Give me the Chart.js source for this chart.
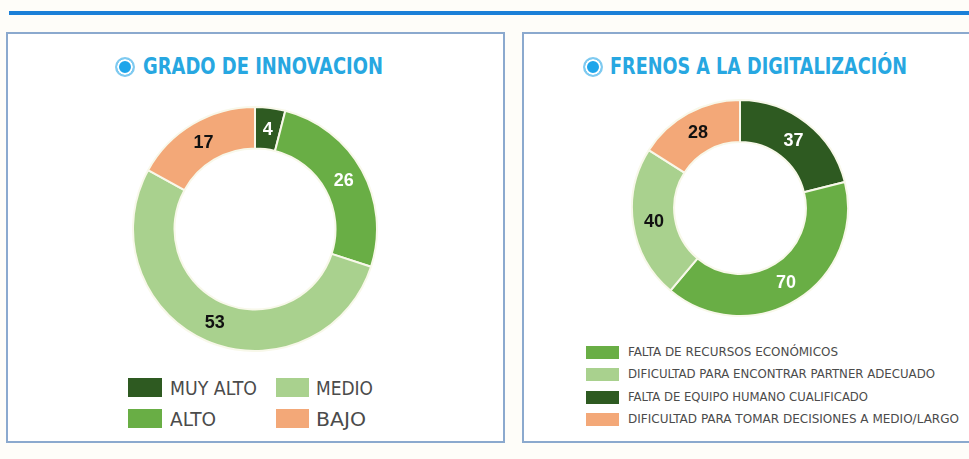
<!DOCTYPE html>
<html>
<head>
<meta charset="utf-8">
<script src="https://cdn.jsdelivr.net/npm/chart.js@4/dist/chart.umd.min.js"></script>
<style>
  html,body{margin:0;padding:0;}
  body{width:969px;height:459px;background:#fefdf9;position:relative;overflow:hidden;
       font-family:"Liberation Sans Narrow","DejaVu Sans Condensed","Roboto",sans-serif;}
  .bar{position:absolute;left:9px;top:11px;width:970px;height:4px;background:#1b80d8;}
  .box{position:absolute;border:2px solid #8ba9ce;background:#ffffff;box-sizing:border-box;}
  .title{position:absolute;color:#27a7e1;font-weight:bold;font-size:23px;}
  .dot{position:absolute;width:20px;height:20px;border-radius:50%;box-sizing:border-box;
       border:2px solid #7fcaf0;background:#1ea5ea;box-shadow:inset 0 0 0 2px #ffffff;}
  .fit{position:absolute;white-space:nowrap;line-height:1;transform-origin:0 50%;}
  .lg{color:#4b4b4b;}
  .sw{position:absolute;}
  canvas{position:absolute;}
</style>
</head>
<body>
<div class="bar"></div>
<div class="box" style="left:6px;top:32px;width:499px;height:411px;"></div>
<div class="box" style="left:522px;top:32px;width:460px;height:411px;"></div>

<div class="dot" style="left:115px;top:57px;"></div>
<div class="dot" style="left:583px;top:57px;"></div>
<div id="t1" class="title fit" data-w="240" data-cy="66.5" style="left:143px;"></div>
<div id="t2" class="title fit" data-w="297" data-cy="66.5" style="left:610px;"></div>

<canvas id="c1" width="246" height="246" style="left:132px;top:106px;width:246px;height:246px;"></canvas>
<canvas id="c2" width="218" height="218" style="left:631px;top:99px;width:218px;height:218px;"></canvas>

<div id="leg1"></div>
<div id="leg2"></div>

<script>
// ---------- data ----------
const innovTitle = "GRADO DE INNOVACION";
const innovCategories = ["MUY ALTO", "ALTO", "MEDIO", "BAJO"];
const innovValues = [4, 26, 53, 17];

const frenosTitle = "FRENOS A LA DIGITALIZACIÓN";
const frenosCategories = [
  "FALTA DE EQUIPO HUMANO CUALIFICADO",
  "FALTA DE RECURSOS ECONÓMICOS",
  "DIFICULTAD PARA ENCONTRAR PARTNER ADECUADO",
  "DIFICULTAD PARA TOMAR DECISIONES A MEDIO/LARGO"
];
const frenosValues = [37, 70, 40, 28];
const frenosLegendOrder = [1, 2, 0, 3];

// ---------- styles ----------
const innovColors = ["#2e5a21", "#69ae45", "#a9d18e", "#f3a878"];
const innovLabelColors = ["#ffffff", "#ffffff", "#111111", "#111111"];
const frenosColors = ["#2e5a21", "#69ae45", "#a9d18e", "#f3a878"];
const frenosLabelColors = ["#ffffff", "#ffffff", "#111111", "#111111"];

document.getElementById('t1').textContent = innovTitle;
document.getElementById('t2').textContent = frenosTitle;

// legends (HTML)
const leg1 = document.getElementById('leg1');
const leg1Layout = [
  {sx:128, sy:378, sw:34, sh:19, tx:170, cy:387.5, w:87},
  {sx:128, sy:409, sw:34, sh:19, tx:170, cy:418.5, w:46},
  {sx:276, sy:378, sw:33, sh:19, tx:316, cy:387.5, w:57},
  {sx:276, sy:409, sw:33, sh:19, tx:316, cy:418.5, w:50}
];
innovCategories.forEach((c, i) => {
  const L = leg1Layout[i];
  const s = document.createElement('div');
  s.className = 'sw';
  s.style.cssText = `left:${L.sx}px;top:${L.sy}px;width:${L.sw}px;height:${L.sh}px;background:${innovColors[i]};`;
  leg1.appendChild(s);
  const t = document.createElement('div');
  t.className = 'fit lg';
  t.style.cssText = `left:${L.tx}px;font-size:20px;`;
  t.dataset.w = L.w; t.dataset.cy = L.cy;
  t.textContent = c;
  leg1.appendChild(t);
});

const leg2 = document.getElementById('leg2');
const leg2Rows = [352, 374, 397, 419.5];
const leg2Widths = [210, 307, 240, 331];
frenosLegendOrder.forEach((idx, r) => {
  const s = document.createElement('div');
  s.className = 'sw';
  s.style.cssText = `left:586px;top:${leg2Rows[r]-6.5}px;width:33px;height:13px;background:${frenosColors[idx]};`;
  leg2.appendChild(s);
  const t = document.createElement('div');
  t.className = 'fit lg';
  t.style.cssText = `left:628px;font-size:12.5px;`;
  t.dataset.w = leg2Widths[r]; t.dataset.cy = leg2Rows[r];
  t.textContent = frenosCategories[idx];
  leg2.appendChild(t);
});

function fitAll(){
  document.querySelectorAll('.fit').forEach(el => {
    el.style.transform = 'none';
    const r = el.getBoundingClientRect();
    const sx = (+el.dataset.w) / r.width;
    el.style.top = (+el.dataset.cy - r.height/2) + 'px';
    el.style.transform = `scaleX(${sx})`;
  });
}
fitAll();
if (document.fonts && document.fonts.ready) document.fonts.ready.then(fitAll);

// value labels plugin
const valueLabels = {
  id: 'valueLabels',
  afterDatasetsDraw(chart, args, opts) {
    const ctx = chart.ctx;
    const meta = chart.getDatasetMeta(0);
    const data = chart.data.datasets[0].data;
    ctx.save();
    ctx.font = 'bold 18px "Liberation Sans", Arial, sans-serif';
    ctx.textAlign = 'center';
    ctx.textBaseline = 'middle';
    meta.data.forEach((arc, i) => {
      const p = arc.tooltipPosition(true);
      ctx.fillStyle = opts.colors[i];
      ctx.fillText(String(data[i]), p.x, p.y + 1);
    });
    ctx.restore();
  }
};

function makeDonut(id, labels, values, colors, labelColors, cutout) {
  return new Chart(document.getElementById(id), {
    type: 'doughnut',
    data: {
      labels: labels,
      datasets: [{
        data: values,
        backgroundColor: colors,
        borderColor: '#f8f8ea',
        borderWidth: 2,
        hoverOffset: 0
      }]
    },
    options: {
      responsive: false,
      maintainAspectRatio: false,
      animation: false,
      cutout: cutout,
      layout: { padding: 0 },
      events: [],
      plugins: {
        legend: { display: false },
        tooltip: { enabled: false },
        valueLabels: { colors: labelColors }
      }
    },
    plugins: [valueLabels]
  });
}

makeDonut('c1', innovCategories, innovValues, innovColors, innovLabelColors, '66%');
makeDonut('c2', frenosCategories, frenosValues, frenosColors, frenosLabelColors, '61%');
</script>
</body>
</html>
